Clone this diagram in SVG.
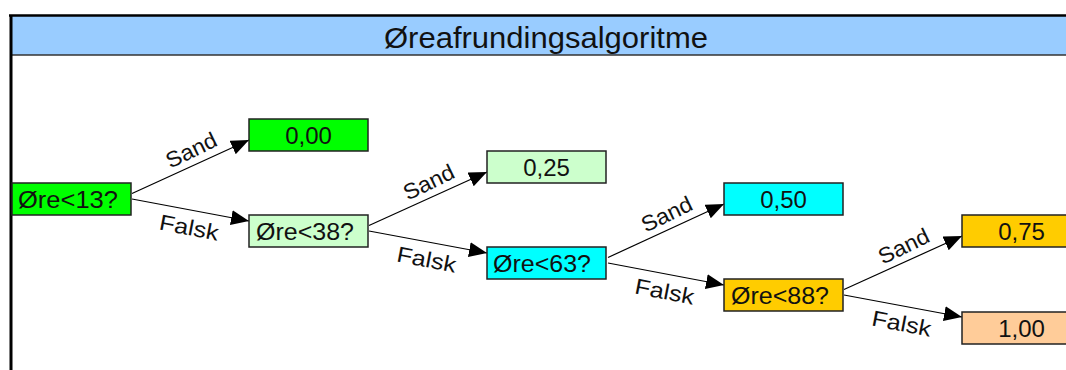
<svg xmlns="http://www.w3.org/2000/svg" width="1066" height="370" viewBox="0 0 1066 370">
<style>
.box{stroke:#222;stroke-width:1.5}
.bt{font-family:"Liberation Sans",Arial,sans-serif;font-size:24px;fill:#111;text-anchor:middle}
.lbl{font-family:"Liberation Sans",Arial,sans-serif;font-size:22px;fill:#111;text-anchor:middle}
.edge{stroke:#000;stroke-width:1.2;fill:none;marker-end:url(#arr)}
</style>
<defs>
<marker id="arr" markerUnits="userSpaceOnUse" markerWidth="20" markerHeight="16" refX="18" refY="7.5" orient="auto">
<path d="M0,0 L18,7.5 L0,15 Z" fill="#000"/>
</marker>
</defs>
<rect width="1066" height="370" fill="#fff"/>
<g id="frame">
<rect x="10" y="15" width="1070" height="40" fill="#99CCFF"/>
<line x1="10" y1="55" x2="1066" y2="55" stroke="#333" stroke-width="1.5"/>
<line x1="9" y1="15.5" x2="1066" y2="15.5" stroke="#000" stroke-width="2.5"/>
<line x1="11" y1="15" x2="11" y2="370" stroke="#000" stroke-width="3"/>
<text x="546" y="48" font-family="Liberation Sans, Arial, sans-serif" font-size="30" fill="#111" text-anchor="middle" textLength="324" lengthAdjust="spacingAndGlyphs">Øreafrundingsalgoritme</text>
</g>
<g id="connectors">
<g id="e1s"><line class="edge" x1="132" y1="193.5" x2="249" y2="140"/><text class="lbl" transform="translate(190.5,166.75) rotate(-26)" x="8" y="-7" textLength="54" lengthAdjust="spacingAndGlyphs">Sand</text></g>
<g id="e1f"><line class="edge" x1="132" y1="199" x2="249" y2="221"/><text class="lbl" transform="translate(190.5,210) rotate(11)" x="2" y="25" textLength="60" lengthAdjust="spacingAndGlyphs">Falsk</text></g>
<g id="e2s"><line class="edge" x1="369" y1="225.5" x2="487" y2="172"/><text class="lbl" transform="translate(428,198.75) rotate(-26)" x="8" y="-7" textLength="54" lengthAdjust="spacingAndGlyphs">Sand</text></g>
<g id="e2f"><line class="edge" x1="369" y1="231" x2="487" y2="253"/><text class="lbl" transform="translate(428,242) rotate(11)" x="2" y="25" textLength="60" lengthAdjust="spacingAndGlyphs">Falsk</text></g>
<g id="e3s"><line class="edge" x1="608" y1="257.5" x2="724" y2="204"/><text class="lbl" transform="translate(666,230.75) rotate(-26)" x="8" y="-7" textLength="54" lengthAdjust="spacingAndGlyphs">Sand</text></g>
<g id="e3f"><line class="edge" x1="608" y1="263" x2="724" y2="285"/><text class="lbl" transform="translate(666,274) rotate(11)" x="2" y="25" textLength="60" lengthAdjust="spacingAndGlyphs">Falsk</text></g>
<g id="e4s"><line class="edge" x1="844" y1="289.5" x2="962" y2="236"/><text class="lbl" transform="translate(903,262.75) rotate(-26)" x="8" y="-7" textLength="54" lengthAdjust="spacingAndGlyphs">Sand</text></g>
<g id="e4f"><line class="edge" x1="844" y1="295" x2="962" y2="317"/><text class="lbl" transform="translate(903,306) rotate(11)" x="2" y="25" textLength="60" lengthAdjust="spacingAndGlyphs">Falsk</text></g>
</g>
<g id="n13"><rect class="box" x="12" y="183" width="119" height="32" fill="#00FF00"/><text class="bt" x="68" y="207.5" textLength="100" lengthAdjust="spacingAndGlyphs">Øre&lt;13?</text></g>
<g id="r000"><rect class="box" x="249" y="119" width="119" height="32" fill="#00FF00"/><text class="bt" x="308.5" y="143.5">0,00</text></g>
<g id="n38"><rect class="box" x="249" y="215" width="119" height="32" fill="#CCFFCC"/><text class="bt" x="305" y="239.5" textLength="98" lengthAdjust="spacingAndGlyphs">Øre&lt;38?</text></g>
<g id="r025"><rect class="box" x="487" y="151" width="119" height="32" fill="#CCFFCC"/><text class="bt" x="546.5" y="175.5">0,25</text></g>
<g id="n63"><rect class="box" x="487" y="247" width="119" height="32" fill="#00FFFF"/><text class="bt" x="542" y="271.5" textLength="98" lengthAdjust="spacingAndGlyphs">Øre&lt;63?</text></g>
<g id="r050"><rect class="box" x="724" y="183" width="119" height="32" fill="#00FFFF"/><text class="bt" x="783.5" y="207.5">0,50</text></g>
<g id="n88"><rect class="box" x="724" y="279" width="119" height="32" fill="#FFCC00"/><text class="bt" x="780" y="303.5" textLength="98" lengthAdjust="spacingAndGlyphs">Øre&lt;88?</text></g>
<g id="r075"><rect class="box" x="962" y="215" width="119" height="32" fill="#FFCC00"/><text class="bt" x="1021.5" y="239.5">0,75</text></g>
<g id="r100"><rect class="box" x="962" y="312" width="119" height="32" fill="#FFCC99"/><text class="bt" x="1021.5" y="336.5">1,00</text></g>
</svg>
